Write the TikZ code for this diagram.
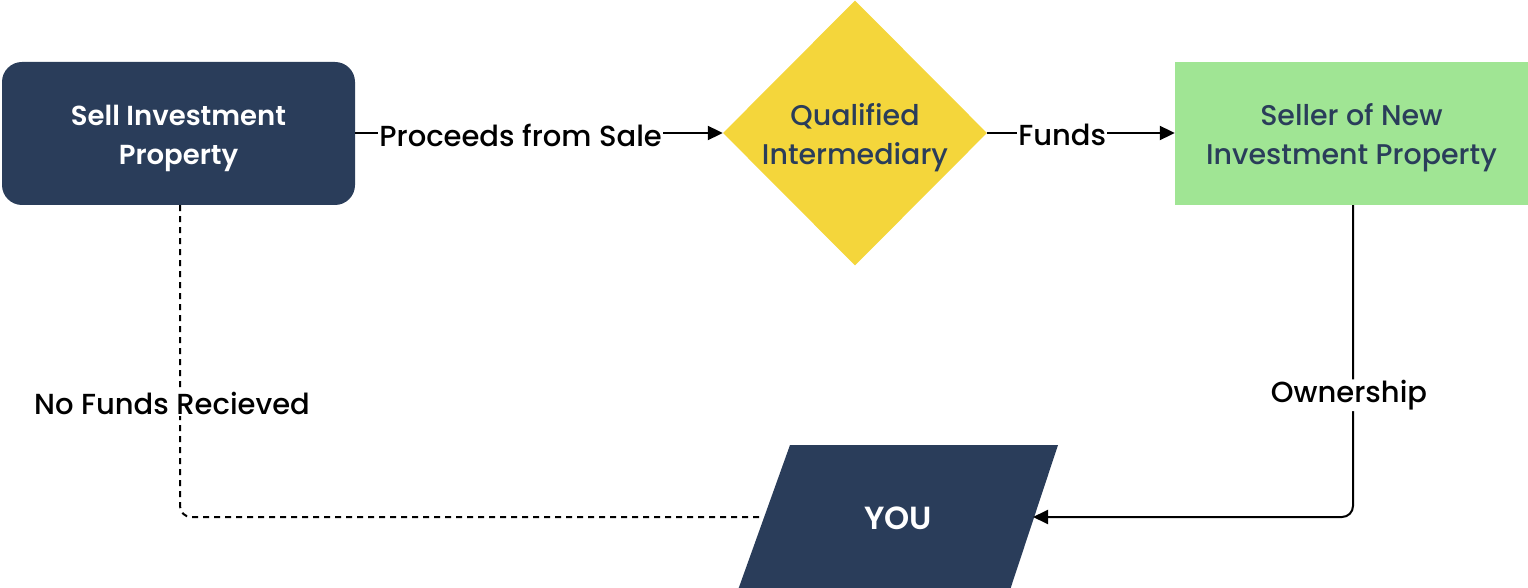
\documentclass[tikz,border=0pt]{standalone}
\usepackage{fontspec}
\setmainfont{Poppins}[UprightFont=* Medium, BoldFont=* SemiBold]
\usetikzlibrary{arrows.meta,shapes.geometric}
\definecolor{navy}{RGB}{42,61,90}
\definecolor{qyellow}{RGB}{244,214,59}
\definecolor{qgreen}{RGB}{160,229,148}
\begin{document}
\begin{tikzpicture}[x=1pt,y=-1pt,
  boxtext/.style={font=\fontsize{28.5}{39}\selectfont, align=center},
  lbl/.style={font=\fontsize{29}{32}\selectfont, fill=white, inner sep=1pt},
  conn/.style={line width=2pt, -{Triangle[length=15pt,width=14pt]}},
  dconn/.style={line width=2pt, dash pattern=on 6pt off 5pt},
]
\useasboundingbox (0,0) rectangle (1528,588);
% Sell box
\node[fill=navy, rounded corners=20pt, minimum width=353pt, minimum height=143pt,
  inner sep=0pt] (sell) at (178.5,133.5) {};
\node[text=white, align=center, font=\fontsize{27.5}{39}\selectfont\bfseries] (selltxt) at (178.5,138) {Sell Investment\\Property};
% Diamond
\node[diamond, fill=qyellow, minimum width=264pt, minimum height=265pt, inner sep=0pt] (qi) at (855,133) {};
\node[text=navy, boxtext] (qitxt) at (855,138) {Qualified\\Intermediary};
% Seller box
\node[fill=qgreen, minimum width=353pt, minimum height=143pt, inner sep=0pt] (seller) at (1351.5,133.5) {};
\node[text=navy, boxtext] (sellertxt) at (1351.5,138) {Seller of New\\Investment Property};
% YOU parallelogram
\fill[navy] (790,445) -- (1058,445) -- (1010,590) -- (738,590) -- cycle;
\node[text=white, font=\fontsize{32}{36}\selectfont\bfseries] (you) at (898,518) {YOU};
\coordinate (youL) at (764,517);
\coordinate (youR) at (1033,517);
% connectors
\draw[conn] (sell.east |- 0,133) -- node[lbl, pos=0.45, yshift=-2pt] {Proceeds from Sale} (qi.west);
\draw[conn] (qi.east) -- node[lbl, pos=0.40, yshift=-2pt] {Funds} (seller.west |- 0,133);
\draw[conn, rounded corners=11pt] (seller.south -| 1353,0) -- (1353,517)
  node[lbl, pos=0.6, yshift=-3pt, xshift=-4pt] {Ownership} -- (youR);
\draw[dconn, rounded corners=11pt] (sell.south -| 180,0) -- (180,517)
  node[lbl, pos=0.63, xshift=-8pt, yshift=-2pt] {No Funds Recieved} -- (youL);
\end{tikzpicture}
\end{document}
